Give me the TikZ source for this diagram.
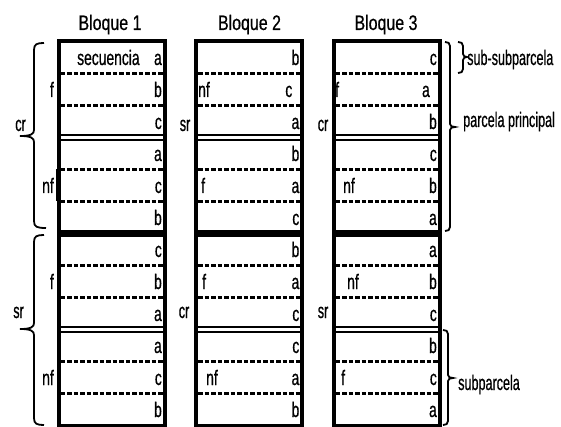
\documentclass[tikz,border=0pt]{standalone}
\usepackage{fontspec}
\setmainfont{Liberation Sans}[FakeStretch=0.66,FakeBold=0.6]
\newfontfamily\headfont{Liberation Sans}[FakeStretch=0.76,FakeBold=0.6]
\newfontfamily\thinfont{Liberation Sans}[FakeStretch=0.6,FakeBold=0.6]
\begin{document}
\begin{tikzpicture}[x=1pt,y=-1pt,
  lbl/.style={inner sep=0pt, font=\fontsize{21}{21}\selectfont},
  head/.style={inner sep=0pt, font=\headfont\fontsize{21}{21}\selectfont},
  side/.style={inner sep=0pt, font=\thinfont\fontsize{21}{21}\selectfont},
  wall/.style={line width=4pt},
  rowsep/.style={line width=2.6pt, dash pattern=on 4.5pt off 2pt},
  dbl/.style={line width=2.2pt},
  mainsep/.style={line width=7pt},
  brc/.style={line width=1.8pt},
]
\useasboundingbox (0,0) rectangle (561,427);

% blocks
\foreach \i in {0,1,2}{
  \pgfmathsetmacro\L{58.5+137.5*\i}
  \pgfmathsetmacro\R{\L+106}
  \foreach \k in {1,2,4,5,7,8,10,11}{
    \draw[rowsep] (\L+2,41.5+32*\k) -- (\R-2,41.5+32*\k);
  }
  \foreach \k in {3,9}{
    \draw[dbl] (\L,41.5+32*\k-2.3) -- (\R,41.5+32*\k-2.3);
    \draw[dbl] (\L,41.5+32*\k+2.3) -- (\R,41.5+32*\k+2.3);
  }
  \draw[mainsep] (\L,233.5) -- (\R,233.5);
  \draw[wall] (\L,41.5) rectangle (\R,425.5);
}
\draw[line width=1.2pt] (56.2,169.5) -- (56.2,201.5);

% headings
\node[head, anchor=base] (h1) at (110,30) {Bloque 1};
\node[head, anchor=base] (h2) at (249.5,30) {Bloque 2};
\node[head, anchor=base] (h3) at (386,30) {Bloque 3};

% treatment letters
\foreach \i/\lst in {0/{a,b,c,a,c,b,c,b,a,a,c,b},1/{b,c,a,b,a,c,b,a,c,c,a,b},2/{c,a,b,c,b,a,a,b,c,b,c,a}}{
  \foreach \l [count=\k] in \lst {
    \pgfmathsetmacro\sh{(\k==2)*(\i>0)*7}
    \node[lbl, anchor=base east] (t\i-\k) at (162+137.5*\i-\sh,33+32*\k) {\l};
  }
}
\node[lbl, anchor=base west] (sec) at (77,65) {secuencia};

% labels inside blocks 2 and 3
\node[lbl, anchor=base west] (b2r2) at (198,97) {nf};
\node[lbl, anchor=base west] (b2r5) at (201,193) {f};
\node[lbl, anchor=base west] (b2r8) at (202,289) {f};
\node[lbl, anchor=base west] (b2r11) at (206,385) {nf};
\node[lbl, anchor=base west] (b3r2) at (335,97) {f};
\node[lbl, anchor=base west] (b3r5) at (343,193) {nf};
\node[lbl, anchor=base west] (b3r8) at (347,289) {nf};
\node[lbl, anchor=base west] (b3r11) at (341,385) {f};

% labels left of block 1
\node[lbl, anchor=base east] (b1f1) at (54,97) {f};
\node[lbl, anchor=base east] (b1n1) at (54,193) {nf};
\node[lbl, anchor=base east] (b1f2) at (54,289) {f};
\node[lbl, anchor=base east] (b1n2) at (54,385) {nf};

% cr / sr labels
\node[side, anchor=base east] (m1) at (26,131) {cr};
\node[side, anchor=base east] (m2) at (24,318) {sr};
\node[side, anchor=base east] (s2a) at (190.5,131) {sr};
\node[side, anchor=base east] (s2b) at (189.5,318) {cr};
\node[side, anchor=base east] (s3a) at (328.5,131) {cr};
\node[side, anchor=base east] (s3b) at (328.5,318) {sr};

% left braces
\draw[brc] (44,43) .. controls (37,43) and (34,44) .. (34,50) -- (34,130)
  .. controls (34,134) and (31,136) .. (20,136)
  .. controls (31,136) and (34,138) .. (34,142) -- (34,221)
  .. controls (34,227) and (37,228) .. (46,228);
\draw[brc] (44,235) .. controls (37,235) and (34,236) .. (34,242) -- (34,323)
  .. controls (34,327) and (31,329) .. (20,329)
  .. controls (31,329) and (34,331) .. (34,335) -- (34,418)
  .. controls (34,424) and (37,425) .. (44,425);

% right braces
\draw[brc] (445,42) .. controls (448,42) and (450,43) .. (450,46) -- (450,124)
  .. controls (450,126) and (452,127) .. (455,127)
  .. controls (452,127) and (450,128) .. (450,130) -- (450,227)
  .. controls (450,230) and (448,231) .. (445,231);
\draw[brc] (458,42) .. controls (461,42) and (463,43) .. (463,46) -- (463,54)
  .. controls (463,56) and (465,57) .. (467,57)
  .. controls (465,57) and (463,58) .. (463,60) -- (463,69)
  .. controls (463,72) and (461,73) .. (458,73);
\draw[brc] (443,330) .. controls (446,330) and (448,331) .. (448,334) -- (448,375)
  .. controls (448,377) and (450,378) .. (453,378)
  .. controls (450,378) and (448,379) .. (448,381) -- (448,421)
  .. controls (448,424) and (446,425) .. (443,425);

\node[side, anchor=base west] (ssp) at (467,65) {sub-subparcela};
\node[side, anchor=base west] (pp) at (463,127) {parcela principal};
\node[side, anchor=base west] (sp) at (458,390) {subparcela};
\end{tikzpicture}
\end{document}
